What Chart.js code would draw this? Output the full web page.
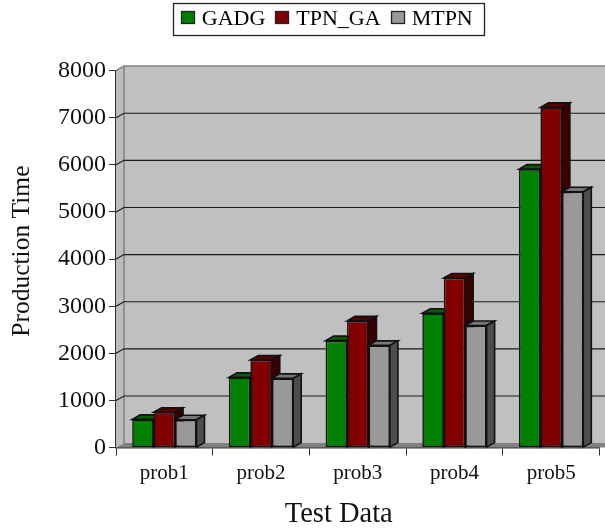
<!DOCTYPE html>
<html><head><meta charset="utf-8">
<style>html,body{margin:0;padding:0;background:#fff;overflow:hidden}canvas{display:block}</style>
<script src="https://cdn.jsdelivr.net/npm/chart.js@4/dist/chart.umd.min.js"></script>
</head><body><canvas id="c" width="605" height="528"></canvas>
<script>
const categories = ['prob1','prob2','prob3','prob4','prob5'];
const GADG = [600,1490,2270,2850,5910];
const TPN_GA = [750,1860,2690,3600,7220];
const MTPN = [590,1470,2170,2590,5430];
const yTicks = [0,1000,2000,3000,4000,5000,6000,7000,8000];
const DX = 8, DY = 4.5, LEGEND_SHIFT = 23, LEGEND_LIFT = 2;
const SERIF = '"Liberation Serif","Times New Roman",serif';
const shades = [
  {front:'#008000', top:'#005c00', side:'#003800'},
  {front:'#800000', top:'#560000', side:'#3a0000'},
  {front:'#999999', top:'#777777', side:'#4d4d4d'}
];
function wrapTitle(scale,dx,dy){
  if(scale._wrapped) return; scale._wrapped=true;
  const f=scale.drawTitle;
  scale.drawTitle=function(){const c=this.ctx;c.save();c.translate(dx,dy);f.call(this);c.restore();};
}
const threeD = {
  id:'threeD',
  beforeLayout(chart){
    const L=chart.legend;
    if(!L._wrapped){L._wrapped=true;const f=L.fit;L.fit=function(){f.call(this);this.height=70.6;};}
  },
  afterLayout(chart){
    const L=chart.legend;
    L.left+=LEGEND_SHIFT; L.right+=LEGEND_SHIFT; L.top-=LEGEND_LIFT;
    L.legendHitBoxes.forEach(h=>{h.left+=LEGEND_SHIFT;h.top-=LEGEND_LIFT;});
    wrapTitle(chart.scales.x,-19,4);
    wrapTitle(chart.scales.y,-1,-8);
  },
  beforeDatasetsDraw(chart){
    const {ctx, chartArea:a, scales:{y}} = chart;
    const R = chart.width, b = a.bottom, t = a.top;
    ctx.save();
    ctx.fillStyle = '#c0c0c0';
    ctx.fillRect(a.left+DX, t-DY, R-a.left-DX, b-t);
    ctx.beginPath();ctx.moveTo(a.left,b);ctx.lineTo(a.left+DX,b-DY);ctx.lineTo(a.left+DX,t-DY);ctx.lineTo(a.left,t);ctx.closePath();
    ctx.fillStyle='#bcbcbc';ctx.fill();
    ctx.beginPath();ctx.moveTo(a.left,b);ctx.lineTo(a.left+DX,b-DY);ctx.lineTo(R,b-DY);ctx.lineTo(R,b);ctx.closePath();
    ctx.fillStyle='#808080';ctx.fill();
    ctx.strokeStyle='#808080';ctx.lineWidth=1.5;
    ctx.beginPath();ctx.moveTo(a.left,t);ctx.lineTo(a.left+DX,t-DY);ctx.lineTo(R,t-DY);
    ctx.moveTo(a.left+DX,t-DY);ctx.lineTo(a.left+DX,b-DY);ctx.stroke();
    ctx.strokeStyle='#1a1a1a';ctx.lineWidth=1.2;
    yTicks.slice(1,-1).forEach(v=>{
      const p=y.getPixelForValue(v);
      ctx.beginPath();ctx.moveTo(a.left,p);ctx.lineTo(a.left+DX,p-DY);ctx.lineTo(R,p-DY);ctx.stroke();
    });
    ctx.restore();
  },
  beforeDatasetDraw(){ return false; },
  afterDatasetsDraw(chart){
    const {ctx}=chart;
    chart.data.datasets.forEach((d,i)=>{
      const meta=chart.getDatasetMeta(i), c=shades[i];
      ctx.save();
      ctx.strokeStyle='#111';ctx.lineWidth=1.6;ctx.lineJoin='miter';
      meta.data.forEach(e=>{
        const l=e.x-e.width/2, r=e.x+e.width/2, t=e.y, b=e.base;
        ctx.beginPath();ctx.moveTo(l,t);ctx.lineTo(l+DX,t-DY);ctx.lineTo(r+DX,t-DY);ctx.lineTo(r,t);ctx.closePath();
        ctx.fillStyle=c.top;ctx.fill();ctx.stroke();
        ctx.beginPath();ctx.moveTo(r,t);ctx.lineTo(r+DX,t-DY);ctx.lineTo(r+DX,b-DY);ctx.lineTo(r,b);ctx.closePath();
        ctx.fillStyle=c.side;ctx.fill();ctx.stroke();
      });
      ctx.restore();
      meta.controller.draw();
    });
  },
  afterDraw(chart){
    const {ctx}=chart;
    ctx.save();ctx.strokeStyle='#222';ctx.lineWidth=1.3;
    ctx.strokeRect(173.5,3.5,311,32);
    chart.legend.legendHitBoxes.forEach((h,i)=>{
      ctx.fillStyle=shades[i].front;
      const y=Math.round(h.top+h.height/2-6.5)+.5, x=Math.round(h.left)+.5;
      ctx.fillRect(x,y,13,12);ctx.strokeRect(x,y,13,12);
    });
    ctx.restore();
  }
};
new Chart(document.getElementById('c'),{
  type:'bar',
  data:{labels:categories,datasets:[
    {label:'GADG',data:GADG,backgroundColor:shades[0].front},
    {label:'TPN_GA',data:TPN_GA,backgroundColor:shades[1].front},
    {label:'MTPN',data:MTPN,backgroundColor:shades[2].front}
  ].map(d=>Object.assign(d,{borderColor:'#111',borderWidth:1.6,borderSkipped:false,categoryPercentage:.665,barPercentage:1}))},
  options:{
    responsive:false,animation:false,
    layout:{padding:{top:0,right:5.5,left:8,bottom:0}},
    plugins:{
      tooltip:{enabled:false},
      legend:{display:true,position:'top',
        labels:{boxWidth:10,boxHeight:10,padding:10,color:'#111',font:{family:SERIF,size:22},
          generateLabels(chart){
            return chart.data.datasets.map((d,i)=>({text:d.label,fillStyle:'rgba(0,0,0,0)',strokeStyle:'rgba(0,0,0,0)',lineWidth:0,datasetIndex:i}));
          }}}
    },
    scales:{
      x:{offset:true,
        grid:{drawOnChartArea:false,drawTicks:true,tickLength:8,tickColor:'#333',offset:true},
        border:{color:'#333',width:1.5},
        ticks:{color:'#111',font:{family:SERIF,size:21},padding:5,maxRotation:0},
        title:{display:true,text:'Test Data',color:'#111',font:{family:SERIF,size:28.5},padding:{top:8,bottom:0}},
        afterFit(s){s.height=80.4}},
      y:{min:0,max:8000,
        afterBuildTicks(s){s.ticks=yTicks.map(v=>({value:v}))},
        grid:{drawOnChartArea:false,tickLength:7,tickColor:'#333'},
        border:{color:'#333',width:1.5},
        ticks:{color:'#111',font:{family:SERIF,size:24},padding:3,callback:v=>String(v)},
        title:{display:true,text:'Production Time',color:'#111',font:{family:SERIF,size:25.5},padding:{top:0,bottom:6}},
        afterFit(s){s.width=108}}
    }
  },
  plugins:[threeD]
});
</script></body></html>
